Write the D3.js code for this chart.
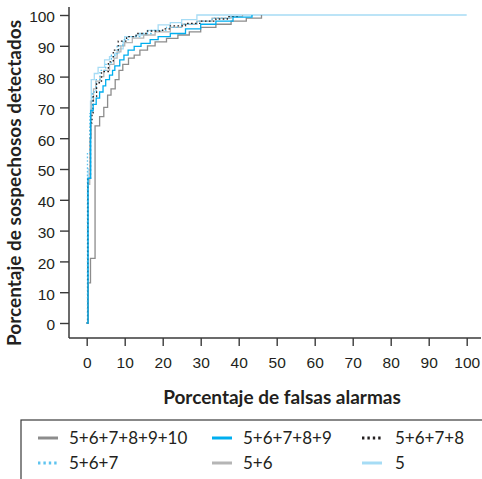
<!DOCTYPE html>
<html>
<head>
<meta charset="utf-8">
<script src="https://cdn.jsdelivr.net/npm/d3@7"></script>
<style>
  body { margin: 0; background: #fff; }
  svg { font-family: Lato, "Open Sans", sans-serif; }
  .axis text { font-size: 15.5px; fill: #231f20; }
  .axis line { stroke: #3a3a3a; stroke-width: 1.4; }
  .label { font-size: 19px; font-weight: bold; fill: #231f20; }
  .legend text { font-size: 17px; fill: #231f20; }
</style>
</head>
<body>
<div id="chart"></div>
<script>
// tick values
const xTicks = [0, 10, 20, 30, 40, 50, 60, 70, 80, 90, 100];
const yTicks = [0, 10, 20, 30, 40, 50, 60, 70, 80, 90, 100];

// series: [falsas alarmas %, sospechosos detectados %], step after each point
const s10 = [[0,0],[0.4,13],[1,21],[2.2,64],[3.4,67],[4.5,70],[5.5,74],[6.4,76],[7.5,79],[8.5,82],[9.5,84],[11,86],[12.5,87],[14,88.6],[16,90],[18,91.3],[21,92.4],[24,93.5],[27,94.5],[30,96],[34,97],[38,98],[42,99],[46,100]];
const s9 = [[0,0],[0.35,47],[1.05,69],[1.7,71],[2.5,73],[3.4,75],[4.3,77],[5,79],[6,80.5],[6.8,82],[7.4,83.5],[8.7,85.4],[9.8,87],[10.9,88.6],[12.5,89.8],[14.3,90.8],[16.7,92],[18.8,93],[22,94],[26,95.5],[30,97],[34,98],[38.5,99.3],[43.5,100]];
const s8 = [[0,0],[0.3,47],[1,65],[1.4,68],[1.7,73.5],[2.6,78],[3.9,81.6],[5.7,84.8],[7,88.6],[8.3,91.5],[10.5,93],[13,94],[16,94.8],[20,95.5],[22,96.5],[26,97.3],[30,98],[34,98.7],[37,99.5],[40,100]];
const s7 = [[0,0],[0.2,55],[0.8,68],[1.5,75],[2.5,79],[3.5,82],[5,84],[6.5,87],[8,90],[9.5,92],[11,93],[14,94],[17,95],[21,96],[25,97],[29,98],[33,99],[38,100]];
const s6 = [[0,0],[0.3,45],[0.8,60],[1.2,72],[1.8,76],[2.4,78.5],[3.5,80],[4.5,82],[6,84],[7.2,86],[8,88],[9,90],[10,91],[12,92.5],[15,93.5],[18,94.5],[22,96],[25,97],[29,98],[33,99],[38,99.5],[41,100]];
const s5 = [[0,0],[0.4,50],[1,72],[1.2,79],[2,81],[3,83],[4.7,85.4],[6,86.5],[7.4,87.6],[8.5,89],[9.6,91],[10,93],[13,93.5],[16,95],[18.8,96.8],[22,97.5],[25,98.5],[29,100],[100,100]];

const names = ["5+6+7+8+9+10", "5+6+7+8+9", "5+6+7+8", "5+6+7", "5+6", "5"];

const series = [
  { name: names[5], data: s5, color: "#a6dcf5", dash: null },
  { name: names[4], data: s6, color: "#b5b5b5", dash: null },
  { name: names[3], data: s7, color: "#5ec4ef", dash: "1.6,2" },
  { name: names[2], data: s8, color: "#231f20", dash: "1.6,2.4" },
  { name: names[0], data: s10, color: "#8c8c8c", dash: null },
  { name: names[1], data: s9, color: "#00aeef", dash: null }
];

const width = 482, height = 479;

const svg = d3.select("#chart").append("svg")
  .attr("width", width)
  .attr("height", height);

const x = d3.scaleLinear().domain([0, 100]).range([86.7, 466.7]);
const y = d3.scaleLinear().domain([0, 100]).range([323, 15]);

const axisX = 69, axisY = 338;

// axis lines
svg.append("line")
  .attr("x1", axisX).attr("x2", axisX)
  .attr("y1", 7).attr("y2", axisY)
  .attr("stroke", "#3a3a3a").attr("stroke-width", 1.5);
svg.append("line")
  .attr("x1", axisX).attr("x2", 481)
  .attr("y1", axisY).attr("y2", axisY)
  .attr("stroke", "#3a3a3a").attr("stroke-width", 1.5);

const yAxis = d3.axisLeft(y).tickValues(yTicks).tickSize(9).tickPadding(5);
const xAxis = d3.axisBottom(x).tickValues(xTicks).tickSize(8).tickPadding(11);

svg.append("g")
  .attr("class", "axis")
  .attr("transform", `translate(${axisX},0)`)
  .call(yAxis)
  .call(g => g.select(".domain").remove())
  .selectAll("text").attr("font-family", null).attr("font-size", null).attr("dy", "0.45em");

svg.append("g")
  .attr("class", "axis")
  .attr("transform", `translate(0,${axisY})`)
  .call(xAxis)
  .call(g => g.select(".domain").remove())
  .selectAll("text").attr("font-family", null).attr("font-size", null);

// curves
const line = d3.line()
  .x(d => x(d[0]))
  .y(d => y(d[1]))
  .curve(d3.curveStepAfter);

svg.append("g").selectAll("path")
  .data(series)
  .join("path")
  .attr("d", d => line(d.data))
  .attr("fill", "none")
  .attr("stroke", d => d.color)
  .attr("stroke-width", 1.3)
  .attr("stroke-dasharray", d => d.dash);

// axis titles
svg.append("text")
  .attr("class", "label")
  .attr("x", 282)
  .attr("y", 404)
  .attr("text-anchor", "middle")
  .text("Porcentaje de falsas alarmas");

svg.append("text")
  .attr("class", "label")
  .attr("transform", "rotate(-90)")
  .attr("x", -183)
  .attr("y", 21)
  .attr("text-anchor", "middle")
  .text("Porcentaje de sospechosos detectados");

// legend
const legend = svg.append("g").attr("class", "legend");
legend.append("rect")
  .attr("x", 21).attr("y", 420)
  .attr("width", 470).attr("height", 70)
  .attr("fill", "none")
  .attr("stroke", "#3a3a3a").attr("stroke-width", 1.2);

const legendItems = [
  { name: names[0], color: "#8c8c8c", dash: null },
  { name: names[1], color: "#00aeef", dash: null },
  { name: names[2], color: "#231f20", dash: "2.4,3" },
  { name: names[3], color: "#5ec4ef", dash: "2.4,3" },
  { name: names[4], color: "#b5b5b5", dash: null },
  { name: names[5], color: "#a6dcf5", dash: null }
];
const colX = [38, 212, 362];
const rowY = [438, 463];

const li = legend.selectAll("g.item")
  .data(legendItems)
  .join("g")
  .attr("class", "item")
  .attr("transform", (d, i) => `translate(${colX[i % 3]},${rowY[Math.floor(i / 3)]})`);

li.append("line")
  .attr("x1", 0).attr("x2", 20)
  .attr("y1", 0).attr("y2", 0)
  .attr("stroke", d => d.color)
  .attr("stroke-width", 3)
  .attr("stroke-dasharray", d => d.dash);

li.append("text")
  .attr("x", (d, i) => i % 3 === 2 ? 33 : 31)
  .attr("y", 0)
  .attr("dy", "0.36em")
  .text(d => d.name);
</script>
</body>
</html>
